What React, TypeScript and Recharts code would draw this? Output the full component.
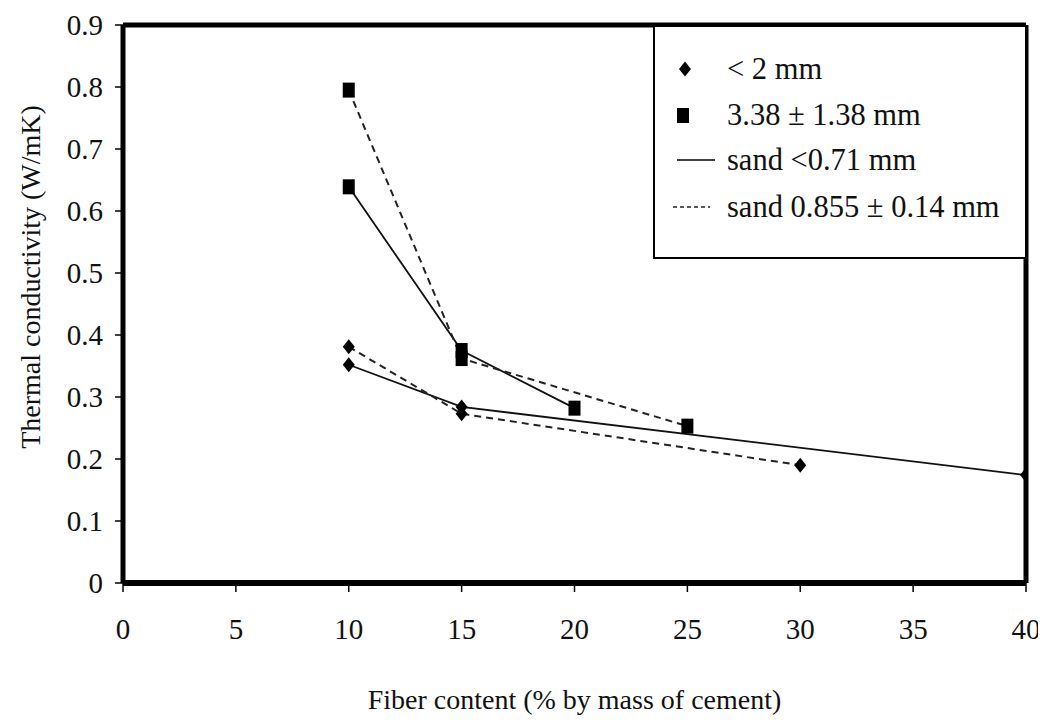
import React from 'react';
import { LineChart, Line, XAxis, YAxis, ReferenceLine, Legend, Label } from 'recharts';

// x values (fiber content, % by mass of cement) and thermal conductivity (W/mK)
const xLt2Sand071 = [10, 15, 40];
const yLt2Sand071 = [0.352, 0.284, 0.174];
const xLt2Sand0855 = [10, 15, 30];
const yLt2Sand0855 = [0.381, 0.273, 0.19];
const x338Sand071 = [10, 15, 20];
const y338Sand071 = [0.639, 0.375, 0.282];
const x338Sand0855 = [10, 15, 25];
const y338Sand0855 = [0.795, 0.362, 0.253];

const xTicks = [0, 5, 10, 15, 20, 25, 30, 35, 40];
const yTicks = [0, 0.1, 0.2, 0.3, 0.4, 0.5, 0.6, 0.7, 0.8, 0.9];

const legendLabels = ['< 2 mm', '3.38 \u00b1 1.38 mm', 'sand <0.71 mm', 'sand 0.855 \u00b1 0.14 mm'];

const build = (xs: number[], ys: number[]) => xs.map((x, i) => ({ x, y: ys[i] }));

const FONT = "'Liberation Serif', 'DejaVu Serif', 'Noto Serif', 'Times New Roman', Times, serif";

const Diamond = (props: any) => {
  const { cx, cy } = props;
  if (cx == null || cy == null) return null;
  return <path d={`M${cx},${cy - 7.5} L${cx + 6},${cy} L${cx},${cy + 7.5} L${cx - 6},${cy} Z`} fill="#000" />;
};
const Square = (props: any) => {
  const { cx, cy } = props;
  if (cx == null || cy == null) return null;
  return <rect x={cx - 6} y={cy - 7.5} width={12} height={15} fill="#000" />;
};

const LegendBox = () => {
  const row = (top: number): React.CSSProperties => ({
    position: 'absolute', left: 0, top, height: 40, width: '100%', display: 'flex', alignItems: 'center',
  });
  const text: React.CSSProperties = { position: 'absolute', left: 72, fontFamily: FONT, fontSize: 30.5, color: '#111', whiteSpace: 'nowrap', lineHeight: '40px' };
  return (
    <div style={{ position: 'relative', width: '100%', height: '100%', boxSizing: 'border-box', border: '2px solid #000', background: '#fff' }}>
      <div style={row(22)}>
        <svg width={60} height={40} style={{ position: 'absolute', left: 0 }}><path d="M30,12.5 L36,20 L30,27.5 L24,20 Z" fill="#000" /></svg>
        <span style={text}>{legendLabels[0]}</span>
      </div>
      <div style={row(68)}>
        <svg width={60} height={40} style={{ position: 'absolute', left: 0 }}><rect x={22} y={13} width={12} height={15} fill="#000" /></svg>
        <span style={text}>{legendLabels[1]}</span>
      </div>
      <div style={row(113)}>
        <svg width={70} height={40} style={{ position: 'absolute', left: 0 }}><line x1={22} y1={20} x2={60} y2={20} stroke="#000" strokeWidth={1.6} /></svg>
        <span style={text}>{legendLabels[2]}</span>
      </div>
      <div style={row(160)}>
        <svg width={70} height={40} style={{ position: 'absolute', left: 0 }}><line x1={18} y1={20} x2={55} y2={20} stroke="#222" strokeWidth={1.3} strokeDasharray="4 3" /></svg>
        <span style={text}>{legendLabels[3]}</span>
      </div>
    </div>
  );
};

const YLabel = (props: any) => {
  const { viewBox } = props;
  const x = 22;
  const y = viewBox.y + viewBox.height / 2 - 27;
  return (
    <text x={x} y={y} transform={`rotate(-90, ${x}, ${y})`} textAnchor="middle" dominantBaseline="central"
      style={{ fontFamily: FONT }} fontSize={28} fill="#111">Thermal conductivity (W/mK)</text>
  );
};

export default function App() {
  return (
    <LineChart width={1038} height={711} margin={{ top: 17, right: 20, bottom: 0, left: 0 }} style={{ fontFamily: FONT }}>
      <XAxis type="number" dataKey="x" domain={[0, 40]} ticks={xTicks} interval={0} allowDataOverflow
        height={136} axisLine={{ stroke: '#000', strokeWidth: 6 }} tickLine={{ stroke: '#000', strokeWidth: 1.5 }}
        tickSize={9} tickMargin={26} tick={{ style: { fontFamily: FONT }, fontSize: 29, fill: '#111' }}>
        <Label value="Fiber content (% by mass of cement)" position="insideBottom" offset={10}
          style={{ fontFamily: FONT, fontSize: 28, fill: '#111' }} />
      </XAxis>
      <YAxis type="number" dataKey="y" domain={[0, 0.9]} ticks={yTicks} interval={0} allowDataOverflow
        width={115} axisLine={{ stroke: '#000', strokeWidth: 5 }} tickLine={{ stroke: '#000', strokeWidth: 1.5 }}
        tickSize={8} tickMargin={12} tick={{ style: { fontFamily: FONT }, fontSize: 29, fill: '#111' }}
        label={<YLabel />} />
      <ReferenceLine y={0.9} stroke="#000" strokeWidth={5} ifOverflow="extendDomain" />
      <ReferenceLine x={40} stroke="#000" strokeWidth={5} ifOverflow="extendDomain" />
      <Legend layout="vertical" align="center" verticalAlign="middle" content={<LegendBox />}
        wrapperStyle={{ position: 'absolute', left: 645, top: 17, width: 374, height: 234, margin: 0 }} />
      <Line data={build(xLt2Sand071, yLt2Sand071)} dataKey="y" type="linear" stroke="#111" strokeWidth={1.8}
        dot={<Diamond />} activeDot={false} isAnimationActive={false} legendType="none" />
      <Line data={build(xLt2Sand0855, yLt2Sand0855)} dataKey="y" type="linear" stroke="#222" strokeWidth={2}
        strokeDasharray="7 5" dot={<Diamond />} activeDot={false} isAnimationActive={false} legendType="none" />
      <Line data={build(x338Sand071, y338Sand071)} dataKey="y" type="linear" stroke="#111" strokeWidth={1.8}
        dot={<Square />} activeDot={false} isAnimationActive={false} legendType="none" />
      <Line data={build(x338Sand0855, y338Sand0855)} dataKey="y" type="linear" stroke="#222" strokeWidth={2}
        strokeDasharray="7 5" dot={<Square />} activeDot={false} isAnimationActive={false} legendType="none" />
    </LineChart>
  );
}
